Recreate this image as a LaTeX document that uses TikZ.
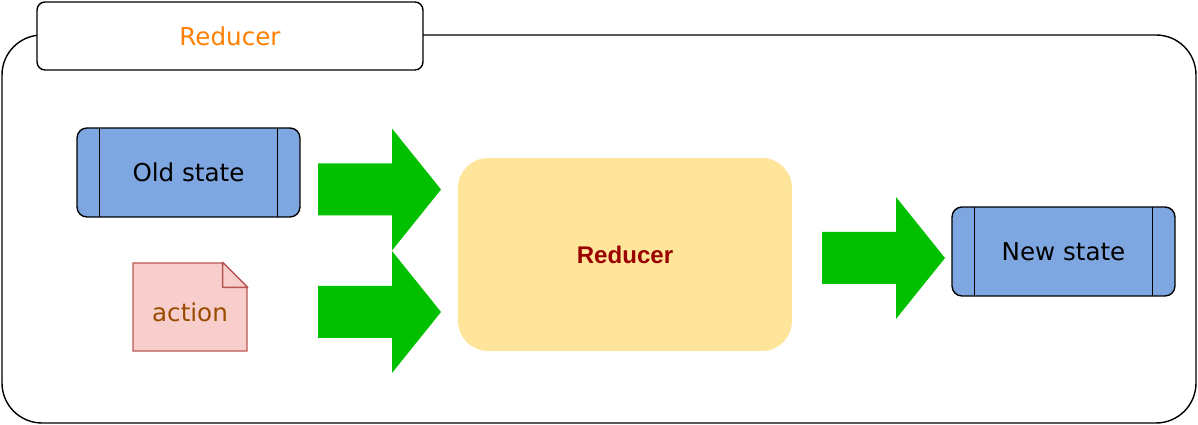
\documentclass[tikz,border=0pt]{standalone}
\usepackage{fontspec}
\setmainfont{DejaVu Sans}
\newfontfamily\helvbold{Liberation Sans}
\usepackage{tikz}
\usetikzlibrary{shapes.misc,positioning,calc}

\definecolor{stateblue}{HTML}{7EA6E0}
\definecolor{redyellow}{HTML}{FFE599}
\definecolor{arrowgreen}{HTML}{00C000}
\definecolor{notefill}{HTML}{F8CECC}
\definecolor{noteedge}{HTML}{B85450}
\definecolor{titleorange}{HTML}{FF8000}
\definecolor{actionbrown}{HTML}{994C00}
\definecolor{reddark}{HTML}{990000}

\begin{document}
\begin{tikzpicture}[
    x=0.02cm, y=-0.02cm,
    frame/.style={draw=black, line width=0.8pt, rounded corners=0.8cm},
    titlebox/.style={rectangle, draw=black, fill=white, line width=0.8pt, rounded corners=0.16cm,
                     minimum width=7.72cm, minimum height=1.36cm,
                     font=\fontsize{14}{17}\selectfont, text=titleorange},
    statebox/.style={rectangle, draw=black, fill=stateblue, line width=0.8pt, rounded corners=0.2cm,
                     minimum width=4.46cm, minimum height=1.78cm, font=\fontsize{14}{17}\selectfont,
                     path picture={
                       \draw[line width=0.8pt]
                         ([xshift=0.45cm]path picture bounding box.north west) --
                         ([xshift=0.45cm]path picture bounding box.south west);
                       \draw[line width=0.8pt]
                         ([xshift=-0.45cm]path picture bounding box.north east) --
                         ([xshift=-0.45cm]path picture bounding box.south east);}},
    notebox/.style={chamfered rectangle, chamfered rectangle corners=north east,
                    chamfered rectangle xsep=0.5cm, chamfered rectangle ysep=0.5cm,
                    draw=noteedge, fill=notefill, line width=0.8pt,
                    minimum width=2.28cm, minimum height=1.76cm, inner sep=0pt,
                    font=\fontsize{14}{17}\selectfont, text=actionbrown},
    reducerbox/.style={rectangle, fill=redyellow, rounded corners=0.6cm,
                       minimum width=6.68cm, minimum height=3.86cm,
                       font=\helvbold\bfseries\fontsize{13.7}{16}\selectfont, text=reddark},
    fatarrow/.pic={
      \fill[arrowgreen] (0,-26) -- (74,-26) -- (74,-61) -- (123,0)
        -- (74,61) -- (74,26) -- (0,26) -- cycle;}
  ]
    \useasboundingbox (0,0) rectangle (1198,425);

    %--- Container ---
    \draw[frame] (2,35) rectangle (1196,423);
    \node[titlebox] (title) at (230,36) {Reducer};

    %--- Inputs ---
    \node[statebox] (old) at (188.5,172.5) {Old state};
    \node[notebox] (action) at (190,307) {\raisebox{-0.29cm}[0pt][0pt]{action}};
    \coordinate (fold) at (action.east |- action.north);
    \draw[draw=noteedge, fill=notefill, line width=0.8pt, line join=round]
      ([xshift=-0.5cm]fold) -- ([xshift=-0.5cm, yshift=-0.5cm]fold) -- ([yshift=-0.5cm]fold) -- cycle;

    %--- Reducer and output ---
    \node[reducerbox] (red) at (625,254.5) {Reducer};
    \node[statebox] (new) at (1063.5,251.5) {New state};

    %--- Arrows ---
    \pic (arrOld) at (318,189.5) {fatarrow};
    \pic (arrAct) at (318,312) {fatarrow};
    \pic (arrNew) at (822,258) {fatarrow};
\end{tikzpicture}
\end{document}
